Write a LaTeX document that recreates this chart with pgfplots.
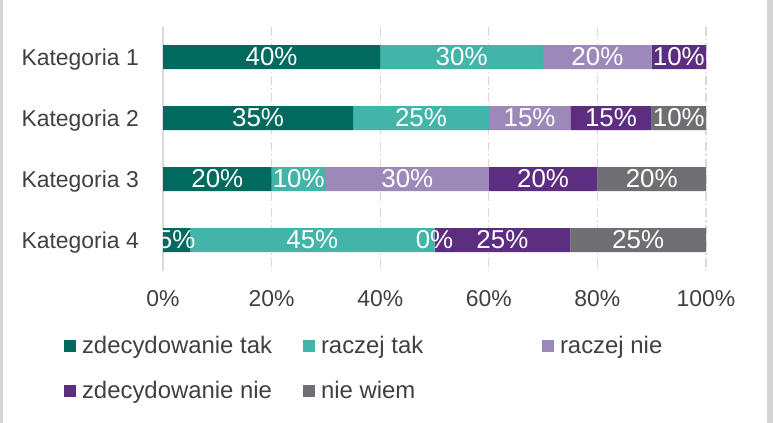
\documentclass[border=0pt]{standalone}
\usepackage{pgfplots}
\pgfplotsset{compat=1.18}
\usepackage{pgfplotstable}
\usepackage{fontspec}
\setmainfont{Liberation Sans}
\definecolor{c1}{RGB}{0,106,94}
\definecolor{c2}{RGB}{66,180,168}
\definecolor{c3}{RGB}{157,137,185}
\definecolor{c4}{RGB}{92,45,128}
\definecolor{c5}{RGB}{111,111,115}
\definecolor{txt}{RGB}{64,64,64}
\definecolor{gridc}{RGB}{217,217,217}
\definecolor{framec}{RGB}{212,212,212}

\pgfplotstableread{
y x lab
0 40 40\%
1 35 35\%
2 20 20\%
3 5 5\%
}\zdtak
\pgfplotstableread{
y x lab
0 30 30\%
1 25 25\%
2 10 10\%
3 45 45\%
}\rtak
\pgfplotstableread{
y x lab
0 20 20\%
1 15 15\%
2 30 30\%
3 0 0\%
}\rnie
\pgfplotstableread{
y x lab
0 10 10\%
1 15 15\%
2 20 20\%
3 25 25\%
}\zdnie
\pgfplotstableread{
y x lab
0 0 {}
1 10 10\%
2 20 20\%
3 25 25\%
}\niewiem

\begin{document}
\begin{tikzpicture}
\useasboundingbox (0,0) rectangle (773bp,423bp);
\fill[white] (0,0) rectangle (773bp,423bp);
\fill[framec] (0,0) rectangle (2.5bp,423bp);
\fill[framec] (767bp,0) rectangle (773bp,423bp);
\begin{axis}[
  at={(163bp,152.5bp)}, anchor=south west,
  scale only axis, width=543bp, height=244bp,
  xbar stacked, bar width=24bp,
  xmin=0, xmax=100, ymin=-0.5, ymax=3.5, y dir=reverse,
  /pgf/number format/assume math mode=true,
  ytick={0,1,2,3},
  yticklabels={Kategoria 1,Kategoria 2,Kategoria 3,Kategoria 4},
  xtick={0,20,40,60,80,100},
  xticklabel={\pgfmathprintnumber{\tick}\%},
  major tick length=0pt,
  axis x line*=bottom, axis y line*=left,
  x axis line style={draw=none},
  y axis line style={draw=gridc, line width=1.4bp, -},
  xmajorgrids,
  grid style={draw=gridc, line width=1.3bp, dash pattern=on 9bp off 3bp on 1.5bp off 3bp},
  ticklabel style={font=\fontsize{23}{27}\selectfont, text=txt, inner sep=0pt},
  xticklabel style={anchor=north, yshift=-20bp},
  yticklabel style={anchor=base east, xshift=-24bp, yshift=-8.2bp},
  nodes near coords,
  point meta=explicit symbolic,
  every node near coord/.append style={anchor=center, text=white,
    font=\fontsize{26}{30}\selectfont, inner sep=0pt},
  every axis plot post/.append style={legend image code/.code={\fill[##1] (0bp,-6bp) rectangle (12bp,6bp); \path (18bp,0bp);}},
  legend cell align=left,
  legend columns=3,
  legend style={
    at={(axis description cs:-0.1823,-0.271)}, anchor=north west,
    draw=none, fill=none, inner sep=0pt, outer sep=0pt,
    font=\fontsize{24}{28}\selectfont, text=txt,
    row sep=26bp, column sep=0pt,
    nodes={inner sep=0pt},
    /tikz/every even column/.style={column sep=0pt},
    /tikz/every odd column/.style={column sep=0pt},
  },
]
\addplot[fill=c1, draw=none] table[x=x, y=y, meta=lab]{\zdtak};
\addlegendentry{\makebox[221bp][l]{zdecydowanie tak}}
\addplot[fill=c2, draw=none] table[x=x, y=y, meta=lab]{\rtak};
\addlegendentry{\makebox[221bp][l]{raczej tak}}
\addplot[fill=c3, draw=none] table[x=x, y=y, meta=lab]{\rnie};
\addlegendentry{\makebox[221bp][l]{raczej nie}}
\addplot[fill=c4, draw=none] table[x=x, y=y, meta=lab]{\zdnie};
\addlegendentry{\makebox[221bp][l]{zdecydowanie nie}}
\addplot[fill=c5, draw=none] table[x=x, y=y, meta=lab]{\niewiem};
\addlegendentry{\makebox[221bp][l]{nie wiem}}
\end{axis}
% overlay axis for the label of the empty (0%) segment of Kategoria 4
\begin{axis}[
  at={(163bp,152.5bp)}, anchor=south west,
  scale only axis, width=543bp, height=244bp,
  xmin=0, xmax=100, ymin=-0.5, ymax=3.5, y dir=reverse,
  hide axis, clip=false,
]
\addplot[draw=none, nodes near coords, point meta=explicit symbolic,
  every node near coord/.style={anchor=center, text=white,
    font=\fontsize{26}{30}\selectfont, inner sep=0pt}]
  coordinates {(50,3) [0\%]};
\end{axis}
\end{tikzpicture}
\end{document}
